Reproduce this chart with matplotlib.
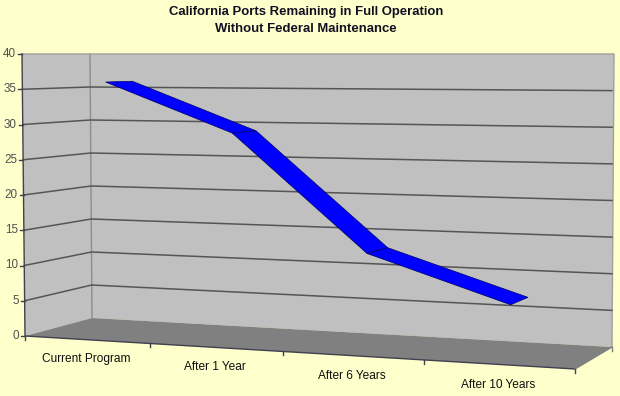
import matplotlib
matplotlib.use('Agg')
import matplotlib.pyplot as plt

# Values
categories = ['Current Program', 'After 1 Year', 'After 6 Years', 'After 10 Years']
ports = [36, 29, 13, 7]
y_ticks = [0, 5, 10, 15, 20, 25, 30, 35, 40]

plt.rcParams['font.family'] = ['Liberation Sans', 'DejaVu Sans']

TOP = 54
Y_MAX = 40
# floor corners of the fake 3D box, in image pixels
FRONT_L = (25, 336)
FRONT_R = (575, 369)
BACK_L = (92, 318)
BACK_R = (612, 347)
STRETCH = 1.134  # the categories widen towards the right


def warp(u):
    return u / (STRETCH + (1 - STRETCH) * u)


def project(slot, depth, value):
    # slot = position along the category axis, depth 0 front .. 1 back
    f = warp(slot / len(categories))
    fx = FRONT_L[0] + (FRONT_R[0] - FRONT_L[0]) * f
    fy = FRONT_L[1] + (FRONT_R[1] - FRONT_L[1]) * f
    bx = BACK_L[0] + (BACK_R[0] - BACK_L[0]) * f
    by = BACK_L[1] + (BACK_R[1] - BACK_L[1]) * f
    x = fx + (bx - fx) * depth
    y = fy + (by - fy) * depth
    return x, y - value / Y_MAX * (y - TOP)


n = len(categories)
fig = plt.figure(figsize=(6.2, 3.96), dpi=100, facecolor='#FFFFCC')
ax = fig.add_axes([0, 0, 1, 1])
ax.set_xlim(0, 620)
ax.set_ylim(396, 0)
ax.axis('off')

# walls and floor
left_top = (22, TOP)
back_top_l = (90, TOP)
back_top_r = (614, TOP)
ax.fill([left_top[0], back_top_l[0], back_top_r[0], BACK_R[0], BACK_L[0], FRONT_L[0]],
        [left_top[1], back_top_l[1], back_top_r[1], BACK_R[1], BACK_L[1], FRONT_L[1]],
        color='#C0C0C0', lw=0, zorder=1)
ax.fill([FRONT_L[0], BACK_L[0], BACK_R[0], FRONT_R[0]],
        [FRONT_L[1], BACK_L[1], BACK_R[1], FRONT_R[1]],
        color='#808080', lw=0, zorder=1)

# box edges
ax.plot([BACK_L[0], back_top_l[0]], [BACK_L[1], back_top_l[1]], color='#8C8C8C', lw=1, zorder=2)
ax.plot([left_top[0], back_top_r[0], BACK_R[0]], [TOP, TOP, BACK_R[1]], color='#A0A0A0', lw=1, zorder=2)
ax.plot([left_top[0], FRONT_L[0], FRONT_R[0]],
        [left_top[1], FRONT_L[1], FRONT_R[1]], color='#404050', lw=1, zorder=4)
ax.plot([FRONT_R[0], BACK_R[0]], [FRONT_R[1], BACK_R[1]], color='#808080', lw=1, zorder=4)

# gridlines and value axis
for v in y_ticks:
    lx, ly = project(0, 0, v)
    ix, iy = project(0, 1, v)
    rx, ry = project(n, 1, v)
    lx = lx - 3 * v / Y_MAX
    ix = ix - 2 * v / Y_MAX
    if 0 < v < Y_MAX:
        ax.plot([lx, ix, rx], [ly, iy, ry], color='#555555', lw=1.1, zorder=3)
    ax.plot([lx - 4, lx], [ly, ly], color='#404050', lw=1, zorder=4)
    ax.text(lx - 6, ly, str(v), ha='right', va='center', fontsize=8.4, color='#505050', zorder=5)

# category ticks and labels
for i in range(n + 1):
    x, y = project(i, 0, 0)
    ax.plot([x, x], [y, y + 4], color='#404050', lw=1, zorder=4)
ax.plot([BACK_R[0], BACK_R[0]], [BACK_R[1], BACK_R[1] + 4], color='#808080', lw=1, zorder=4)
for i, name in enumerate(categories):
    x, y = project(i + 0.5, 0, 0)
    # labels drift a little further below the axis towards the right
    ax.text(x, y + 19 + 0.005 * (x - 86), name, ha='center', va='center', fontsize=8.6,
            color='#101010', zorder=5)

# the line as a ribbon on the floor depth
d_front = 0.3
d_back = 0.72
for i in range(n - 1):
    p1 = project(i + 0.5, d_front, ports[i])
    p2 = project(i + 1.5, d_front, ports[i + 1])
    p3 = project(i + 1.5, d_back, ports[i + 1])
    p4 = project(i + 0.5, d_back, ports[i])
    ax.fill([p1[0], p2[0], p3[0], p4[0]], [p1[1], p2[1], p3[1], p4[1]],
            facecolor='#0000FF', edgecolor='#000060', lw=0.5, zorder=6)

ax.text(306, 12, 'California Ports Remaining in Full Operation', ha='center', va='center',
        fontsize=9.45, fontweight='bold', color='#101020')
ax.text(306, 29.5, 'Without Federal Maintenance', ha='center', va='center',
        fontsize=9.45, fontweight='bold', color='#101020')

fig.savefig('out.png', dpi=100, facecolor=fig.get_facecolor())
